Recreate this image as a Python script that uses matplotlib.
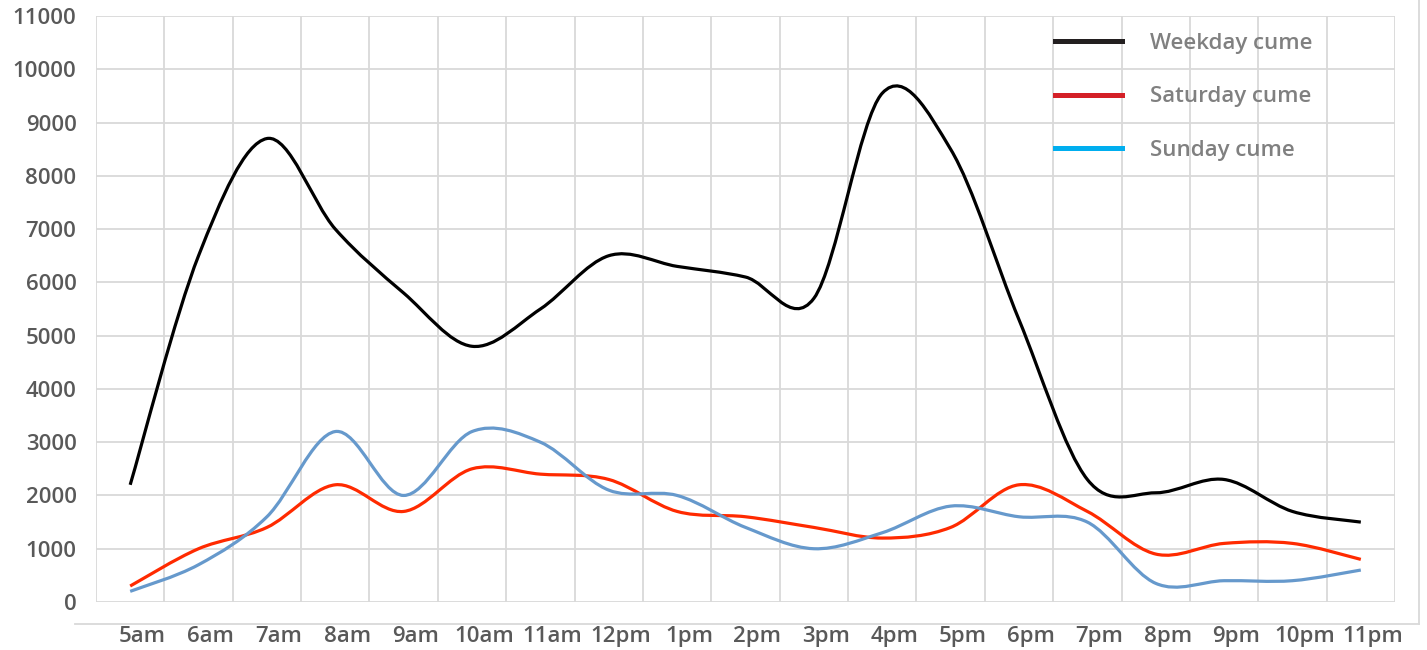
import numpy as np
import matplotlib.pyplot as plt
from matplotlib.path import Path
from matplotlib.patches import PathPatch
from matplotlib.lines import Line2D
import matplotlib.transforms as mtransforms

hours = ['5am', '6am', '7am', '8am', '9am', '10am', '11am', '12pm', '1pm', '2pm',
         '3pm', '4pm', '5pm', '6pm', '7pm', '8pm', '9pm', '10pm', '11pm']
weekday = [2200, 6500, 8700, 7000, 5800, 4800, 5500, 6500, 6300, 6100,
           5700, 9550, 8500, 5300, 2300, 2050, 2300, 1700, 1500]
saturday = [300, 1000, 1400, 2200, 1700, 2500, 2400, 2300, 1700, 1600,
            1400, 1200, 1400, 2200, 1700, 900, 1100, 1100, 800]
sunday = [200, 700, 1600, 3200, 2000, 3200, 3000, 2100, 2000, 1400,
          1000, 1300, 1800, 1600, 1500, 350, 400, 400, 600]

plt.rcParams['font.family'] = ['Open Sans', 'DejaVu Sans']


def smooth_path(x, y):
    # Excel-style smoothed line (bezier through the points)
    p = np.column_stack([x, y]).astype(float)
    n = len(p)
    verts = [p[0]]
    codes = [Path.MOVETO]
    for i in range(n - 1):
        p0 = p[i - 1] if i > 0 else p[i]
        p3 = p[i + 2] if i + 2 < n else p[i + 1]
        c1 = p[i] + (p[i + 1] - p0) / 6.0
        c2 = p[i + 1] - (p3 - p[i]) / 6.0
        verts += [c1, c2, p[i + 1]]
        codes += [Path.CURVE4] * 3
    return Path(verts, codes)


fig = plt.figure(figsize=(14.27, 6.5), dpi=100)
ax = fig.add_axes([96 / 1427, 48 / 650, 1299 / 1427, 586 / 650])

x = np.arange(len(hours))
for vals, col in [(weekday, '#000000'), (saturday, '#ff2a00'), (sunday, '#6699cc')]:
    ax.add_patch(PathPatch(smooth_path(x, vals), facecolor='none', edgecolor=col,
                           lw=2.3, capstyle='butt', joinstyle='round', zorder=3))

ax.set_xlim(-0.5, len(hours) - 0.5)
ax.set_ylim(0, 11000)
ax.set_yticks(np.arange(0, 11001, 1000))
ax.set_xticks(x)
ax.set_xticklabels(hours)
ax.set_xticks(np.arange(-0.5, len(hours), 1), minor=True)

grid_col = '#d9d9d9'
ax.grid(axis='y', which='major', color=grid_col, lw=1.3)
ax.grid(axis='x', which='minor', color=grid_col, lw=1.3)
ax.set_axisbelow(True)
for s in ax.spines.values():
    s.set_visible(False)
ax.tick_params(which='both', length=0)
ax.tick_params(axis='y', labelsize=16, labelcolor='#595959', pad=14)
ax.tick_params(axis='x', labelsize=16, labelcolor='#595959', pad=17)
for lab in ax.get_yticklabels() + ax.get_xticklabels():
    lab.set_fontweight('semibold')

# x labels sit a little right of the category centres
offset = mtransforms.ScaledTranslation(12 / 100, 0, fig.dpi_scale_trans)
for lab in ax.get_xticklabels():
    lab.set_transform(lab.get_transform() + offset)

# outer frame lines
fig.add_artist(Line2D([75 / 1427, 1419 / 1427], [1 - 624 / 650, 1 - 624 / 650],
                      color=grid_col, lw=1.3, transform=fig.transFigure))
fig.add_artist(Line2D([1419 / 1427, 1419 / 1427], [1 - 624 / 650, 1.0],
                      color=grid_col, lw=1.3, transform=fig.transFigure))

handles = [Line2D([], [], color='#231f20', lw=3.6),
           Line2D([], [], color='#d42027', lw=3.6),
           Line2D([], [], color='#00aeef', lw=3.6)]
leg = fig.legend(handles, ['Weekday cume', 'Saturday cume', 'Sunday cume'],
                 loc='upper left', bbox_to_anchor=(1055 / 1427, 1 - 33 / 650),
                 frameon=False, fontsize=16, handlelength=3.0, handletextpad=1.26,
                 labelspacing=1.46, borderpad=0, borderaxespad=0)
for t in leg.get_texts():
    t.set_color('#808080')
    t.set_fontweight('semibold')

plt.savefig('out.png', dpi=100)
